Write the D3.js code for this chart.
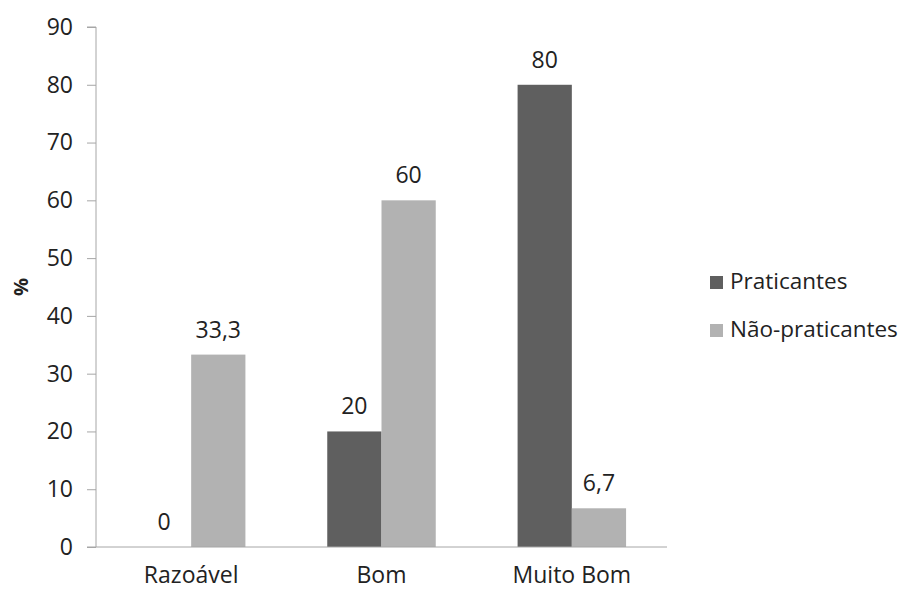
<!DOCTYPE html>
<html><head><meta charset="utf-8">
<script src="https://cdn.jsdelivr.net/npm/d3@7"></script>
<style>body{margin:0;background:#fff;} text{font-family:"Open Sans",sans-serif;fill:#222;}</style>
</head><body>
<svg id="c" width="905" height="590"></svg>
<script>
const categories = ["Razoável", "Bom", "Muito Bom"];
const seriesNames = ["Praticantes", "Não-praticantes"];
const praticantes = [0, 20, 80];
const naoPraticantes = [33.3, 60, 6.7];
const yTicks = [0, 10, 20, 30, 40, 50, 60, 70, 80, 90];
const colors = ["#5f5f5f", "#b2b2b2"];

(function () {
const svg = d3.select("#c");
const pL = 96, pR = 667, pT = 27, pB = 547;
const FS = "23px";
const x = d3.scaleBand().domain(categories).range([pL, pR]).paddingInner(0.43).paddingOuter(0.215);
const xs = d3.scaleBand().domain(seriesNames).range([0, x.bandwidth()]);
const y = d3.scaleLinear().domain([0, 90]).range([pB, pT]);
const fmt = v => String(v).replace(".", ",");

const series = [praticantes, naoPraticantes];
const g = svg.append("g");
series.forEach((vals, si) => {
  g.selectAll(null).data(categories).enter().append("rect")
    .attr("x", (c) => x(c) + xs(seriesNames[si]))
    .attr("width", xs.bandwidth())
    .attr("y", (c, i) => y(vals[i]))
    .attr("height", (c, i) => y(0) - y(vals[i]))
    .attr("fill", colors[si]);
  g.selectAll(null).data(categories).enter().append("text")
    .attr("x", (c) => x(c) + xs(seriesNames[si]) + xs.bandwidth() / 2)
    .attr("y", (c, i) => y(vals[i]) - 17)
    .attr("text-anchor", "middle")
    .style("font-size", FS)
    .text((c, i) => fmt(vals[i]));
});

// y axis
const ya = svg.append("g").attr("transform", `translate(${pL},0)`)
  .call(d3.axisLeft(y).tickValues(yTicks).tickSize(9).tickPadding(14));
ya.select(".domain").attr("stroke", "#a6a6a6").attr("d", `M-9,${pT}H0V${pB}`);
ya.selectAll(".tick line").attr("stroke", "#a6a6a6");
ya.selectAll(".tick text").style("font-size", FS).style("font-family", "Open Sans").attr("fill", "#222");

// x axis
const xa = svg.append("g").attr("transform", `translate(0,${pB})`)
  .call(d3.axisBottom(x).tickSize(0).tickPadding(20));
xa.select(".domain").attr("stroke", "#a6a6a6").attr("d", `M${pL - 9},0H${pR}`);
xa.selectAll(".tick text").style("font-size", FS).style("font-family", "Open Sans").attr("fill", "#222");

// y title
svg.append("text").attr("transform", "translate(28,287) rotate(-90)")
  .attr("text-anchor", "middle").style("font-size", "20px").style("font-weight", "bold").text("%");

// legend
const lg = svg.append("g");
seriesNames.forEach((n, i) => {
  const base = 289 + i * 48;
  lg.append("rect").attr("x", 710).attr("y", base - 13).attr("width", 13).attr("height", 13).attr("fill", colors[i]);
  lg.append("text").attr("x", 730).attr("y", base).style("font-size", "22.5px").text(n);
});
})();
</script>
</body></html>
